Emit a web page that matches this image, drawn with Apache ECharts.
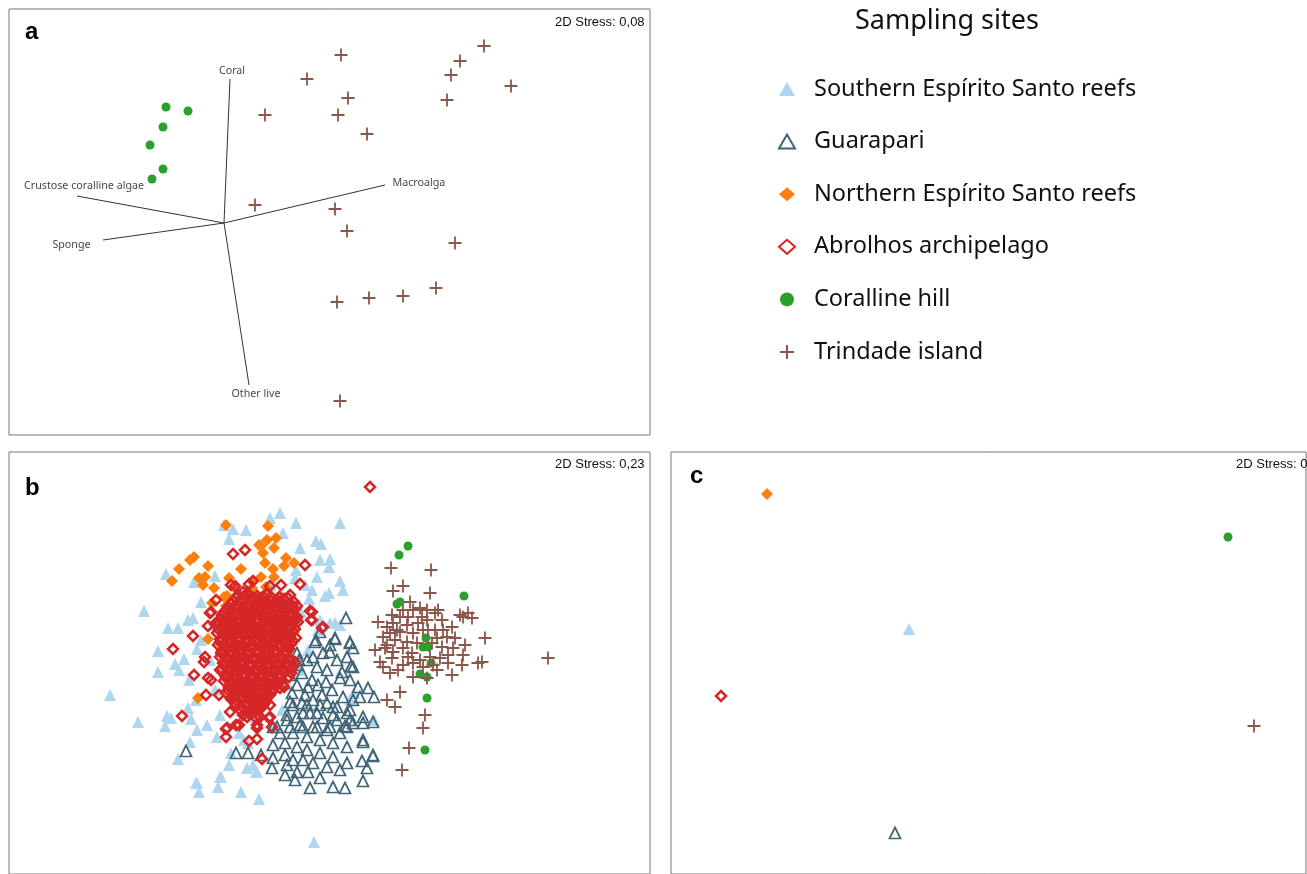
<!DOCTYPE html>
<html><head><meta charset="utf-8">
<script src="https://cdn.jsdelivr.net/npm/echarts@6/dist/echarts.min.js"></script>
<style>html,body{margin:0;padding:0;background:#fff}#c{width:1307px;height:874px}</style>
</head><body><div id="c"></div>
<script>
// ---------- Site names ----------
const siteNames = ['Southern Espírito Santo reefs','Guarapari','Northern Espírito Santo reefs','Abrolhos archipelago','Coralline hill','Trindade island'];

const trindadeA = [[341,55],[484,46],[307,79],[460,61],[451,75],[511,86],[348,98],[338,115],[447,100],[265,115],[367,134],[255,205],[335,209],[347,231],[455,243],[436,288],[403,296],[369,298],[337,302],[340,401]];
const corallineA = [[166,107],[188,111],[163,127],[150,145],[163,169],[152,179]];
const vectorOrigin = [224,223];
const vectorNames = ['Coral','Crustose coralline algae','Sponge','Macroalga','Other live'];
const vectorEnds = [[230,79],[77,196],[103,240],[385,185],[249,385]];

// ---------- Panel b ----------
const southernB = [[280,513],[270,518],[224,525],[233,529],[246,530],[296,523],[340,523],[229,539],[316,541],[321,544],[283,533],[330,559],[329,567],[317,577],[340,581],[343,590],[329,593],[325,596],[309,599],[290,599],[282,605],[166,574],[194,582],[215,576],[144,611],[168,628],[178,628],[193,618],[271,585],[295,578],[320,620],[330,623],[340,625],[158,651],[197,649],[184,659],[175,664],[158,672],[179,670],[189,680],[110,695],[138,722],[167,716],[165,726],[188,708],[197,730],[207,725],[190,742],[178,759],[229,765],[220,777],[197,783],[199,792],[218,787],[241,792],[259,799],[247,768],[256,772],[314,842],[374,720],[350,699],[335,623],[291,600],[269,587],[201,602],[220,715],[254,717],[231,753],[248,743],[274,727],[282,710],[299,670],[308,650],[318,630],[354,693],[171,718],[191,719],[217,737],[239,733],[244,740],[253,765],[257,772],[221,777],[196,783],[213,625],[201,640],[188,620],[265,620],[301,612],[312,590],[296,570],[305,585],[320,560],[300,548],[243,612],[210,660],[215,690],[196,700]];
const guarapariB = [[346,618],[335,639],[350,643],[315,642],[323,653],[313,657],[307,660],[330,652],[337,660],[347,657],[353,667],[368,688],[360,697],[298,665],[302,673],[317,667],[327,670],[340,678],[350,680],[297,685],[308,687],[318,685],[332,690],[343,697],[353,700],[290,702],[302,703],[313,700],[327,703],[337,707],[350,710],[287,715],[297,717],[310,713],[323,718],[337,720],[350,720],[363,717],[373,722],[277,727],[290,727],[303,727],[317,727],[330,727],[345,726],[186,751],[236,753],[248,753],[273,745],[272,768],[285,775],[295,780],[310,788],[297,772],[308,772],[320,778],[333,787],[345,788],[363,781],[367,768],[362,761],[373,756],[363,740],[363,723],[353,723],[285,755],[293,760],[303,760],[313,763],[327,767],[340,770],[347,763],[333,757],[320,753],[307,750],[297,747],[285,743],[280,733],[293,733],[307,737],[320,740],[333,743],[347,747],[340,733],[327,730],[313,727],[300,725],[347,727],[273,727],[287,720],[303,713],[317,713],[333,715],[347,713],[307,705],[320,705],[333,707],[293,705],[273,758],[287,765],[374,697],[363,742],[373,755],[316,640],[335,638],[350,642],[353,648],[351,666],[358,687],[297,653],[299,660],[261,755],[320,632],[330,645],[342,672],[312,680],[322,695],[305,695],[292,693],[284,683],[290,675],[326,682]];
const northernB = [[226,525],[268,526],[194,557],[190,560],[179,569],[172,581],[208,566],[241,569],[261,546],[267,540],[276,538],[274,548],[265,563],[286,558],[294,563],[284,566],[199,578],[205,577],[214,588],[229,578],[261,577],[274,577],[280,596],[212,603],[226,606],[244,607],[208,639],[222,645],[244,648],[294,630],[198,698],[224,597],[252,588],[259,545],[263,553],[273,569],[253,581],[266,587],[227,596],[257,595],[235,588],[203,585],[277,615]];
const abrolhosB = [[370,487],[233,554],[245,550],[305,565],[300,584],[231,585],[235,586],[243,592],[249,584],[253,581],[270,586],[281,585],[216,600],[260,600],[266,602],[272,605],[211,612],[230,617],[310,611],[289,608],[297,617],[311,620],[322,628],[217,622],[193,636],[173,649],[205,657],[204,662],[220,670],[208,678],[211,680],[206,695],[219,695],[182,716],[230,712],[236,725],[227,728],[243,715],[258,708],[269,718],[272,727],[257,728],[283,685],[289,677],[295,662],[312,612],[312,620],[323,627],[210,613],[215,624],[208,626],[227,632],[237,633],[290,613],[285,618],[267,605],[290,638],[293,667],[231,642],[221,653],[230,663],[235,688],[232,698],[235,703],[257,708],[262,703],[270,705],[260,717],[270,717],[257,725],[239,725],[226,729],[226,737],[249,741],[257,739],[262,759],[194,675],[280,677],[291,673],[284,687],[280,688],
[238,595],[247,593],[257,596],[266,594],[279,597],[290,595],
[233,601],[244,600],[252,602],[262,599],[271,601],[284,600],[294,602],
[228,607],[239,606],[248,608],[257,605],[265,607],[276,606],[288,608],[297,606],
[224,612],[236,613],[243,611],[253,613],[261,612],[270,614],[281,612],[291,613],
[221,619],[231,618],[240,620],[249,617],[258,619],[266,618],[277,620],[286,618],[296,619],
[226,625],[235,624],[244,626],[252,624],[263,625],[271,623],[282,626],[292,624],
[219,630],[229,631],[238,629],[247,631],[256,630],[266,632],[275,630],[285,631],[295,629],
[224,636],[233,637],[242,635],[251,637],[260,636],[270,638],[280,636],[290,637],
[220,642],[229,643],[238,641],[246,643],[255,642],[264,644],[274,642],[284,643],[293,641],
[225,648],[234,649],[243,647],[251,649],[261,648],[269,650],[279,648],[289,649],
[222,654],[231,655],[240,653],[248,655],[257,654],[266,656],[275,654],[285,655],
[227,660],[236,661],[245,659],[254,661],[262,660],[272,662],[281,660],[290,661],
[224,666],[233,667],[242,665],[250,667],[259,666],[268,668],[278,666],[287,667],
[229,672],[238,673],[247,671],[255,673],[264,672],[274,674],[283,672],
[226,678],[235,679],[243,677],[252,679],[261,678],[270,680],[279,678],
[231,684],[239,685],[248,683],[257,685],[266,684],[275,686],
[228,690],[236,691],[245,689],[254,691],[263,690],[272,692],
[233,696],[242,697],[250,695],[259,697],[268,696],
[238,702],[247,703],[256,701],[265,703],
[243,708],[252,709],[261,707],
[249,714],[258,715],
[242,598],[252,597],[261,598],[271,597],[284,599],
[237,604],[248,604],[257,603],[267,604],[279,603],[290,605],
[232,610],[243,609],[252,611],[261,609],[270,610],[282,609],[293,610],
[227,616],[236,615],[245,616],[254,615],[262,616],[272,617],[282,615],[292,616],
[223,622],[231,621],[240,622],[249,621],[258,622],[268,621],[278,623],[288,621],[298,622],
[221,628],[230,627],[240,628],[248,627],[258,628],[267,627],[277,628],[288,627],
[223,633],[233,634],[242,633],[251,634],[260,633],[270,634],[280,633],[290,634],
[220,639],[229,640],[238,638],[247,640],[256,639],[266,640],[276,639],[286,640],[296,638],
[224,645],[233,645],[242,644],[251,646],[260,645],[269,646],[279,645],[289,646],
[222,651],[231,652],[239,651],[248,652],[257,651],[266,652],[275,651],[285,652],
[226,657],[235,658],[244,657],[253,658],[262,657],[271,658],[280,657],[289,658],
[223,663],[232,664],[241,663],[250,664],[259,663],[268,664],[277,663],[286,664],
[228,669],[237,670],[246,669],[255,670],[264,669],[273,670],[282,669],
[225,675],[234,676],[243,675],[252,676],[261,675],[270,676],[279,675],
[230,681],[239,682],[248,681],[257,682],[266,681],[275,682],
[232,687],[241,688],[250,687],[259,688],[268,687],
[237,693],[246,694],[255,693],[264,694],
[242,699],[251,700],[260,699],
[247,705],[256,706],
[236,598],[245,596],[255,599],[264,597],[277,600],[288,598],
[231,604],[242,603],[250,605],[260,602],[269,604],[282,603],[292,605],
[226,610],[237,609],[246,611],[255,608],[263,610],[274,609],[286,611],[295,609],
[222,615],[234,616],[241,614],[251,616],[259,615],[268,617],[279,615],[289,616],
[219,622],[229,621],[238,623],[247,620],[256,622],[264,621],[275,623],[284,621],[294,622],
[224,628],[233,627],[242,629],[250,627],[261,628],[269,626],[280,629],[290,627],
[217,633],[227,634],[236,632],[245,634],[254,633],[264,635],[273,633],[283,634],[293,632],
[222,639],[231,640],[240,638],[249,640],[258,639],[268,641],[278,639],[288,640],
[218,645],[227,646],[236,644],[244,646],[253,645],[262,647],[272,645],[282,646],[291,644],
[223,651],[232,652],[241,650],[249,652],[259,651],[267,653],[277,651],[287,652],
[220,657],[229,658],[238,656],[246,658],[255,657],[264,659],[273,657],[283,658],
[225,663],[234,664],[243,662],[252,664],[260,663],[270,665],[279,663],[288,664],
[222,669],[231,670],[240,668],[248,670],[257,669],[266,671],[276,669],[285,670],
[227,675],[236,676],[245,674],[253,676],[262,675],[272,677],[281,675],
[224,681],[233,682],[241,680],[250,682],[259,681],[268,683],[277,681],
[229,687],[237,688],[246,686],[255,688],[264,687],[273,689],
[226,693],[234,694],[243,692],[252,694],[261,693],[270,695],
[231,699],[240,700],[248,698],[257,700],[266,699],
[236,705],[245,706],[254,704],[263,706],
[241,711],[250,712],[259,710],
[247,717],[256,718]];
const corallineB = [[408,546],[399,555],[464,596],[397,604],[400,602],[426,638],[423,647],[428,647],[431,663],[420,674],[427,677],[427,698],[425,750]];
const trindadeB = [[391,568],[431,570],[403,586],[393,591],[430,593],[548,658],[485,638],[482,662],[478,663],[400,692],[387,700],[395,707],[425,715],[423,728],[409,748],[402,770],
[410,602],[413,610],[420,608],[427,610],[438,610],[435,613],[460,615],[468,613],[472,618],[463,617],[400,617],[393,623],[378,622],[387,627],[407,625],[418,623],[427,620],[442,620],[452,627],[435,630],[423,630],[413,633],[400,632],[390,633],[383,637],[395,640],[407,642],[417,643],[437,638],[447,637],[455,638],[465,645],[442,647],[375,650],[385,648],[393,652],[403,648],[412,653],[430,657],[440,658],[448,655],[463,655],[380,662],[392,658],[403,665],[413,663],[423,667],[433,665],[448,663],[462,665],[383,667],[390,673],[413,677],[427,678],[452,675],[437,670],[398,670],[408,657],[420,660],[422,617],[428,630],[397,630],[432,643],[403,610],[408,617],[387,645],[453,648],[443,630],[392,615]];

// ---------- Panel c ----------
const southernC = [[909,629]];
const guarapariC = [[895,833]];
const northernC = [[767,494]];
const abrolhosC = [[721,696]];
const corallineC = [[1228,537]];
const trindadeC = [[1254,726]];

// ---------- styles ----------
const crossPath = 'path://M4.3,0H5.7V4.3H10V5.7H5.7V10H4.3V5.7H0V4.3H4.3Z';
const styles = [
  {symbol:'triangle', symbolSize:12, itemStyle:{color:'#aed6ef', opacity:1}},
  {symbol:'triangle', symbolSize:11, itemStyle:{color:'rgba(255,255,255,0)', borderColor:'#3f6579', borderWidth:1.7, opacity:1}},
  {symbol:'diamond', symbolSize:12, itemStyle:{color:'#ff7f0e', opacity:1}},
  {symbol:'diamond', symbolSize:10, itemStyle:{color:'rgba(255,255,255,0)', borderColor:'#d62728', borderWidth:2.5, opacity:1}},
  {symbol:'circle', symbolSize:9, itemStyle:{color:'#2ca02c', opacity:1}},
  {symbol:crossPath, symbolSize:13, itemStyle:{color:'#8c564b', opacity:1}}
];
function sc(siteIdx, data, gi){
  const s = styles[siteIdx];
  return {type:'scatter', name:siteNames[siteIdx], xAxisIndex:gi, yAxisIndex:gi, data:data,
    symbol:s.symbol, symbolSize:s.symbolSize, itemStyle:Object.assign({}, s.itemStyle),
    silent:true, z:2+siteIdx};
}

const series = [];
vectorEnds.forEach((e,i)=>{
  series.push({type:'line', name:'vec'+i, xAxisIndex:0, yAxisIndex:0, data:[vectorOrigin, e],
    symbol:'none', lineStyle:{color:'#333', width:1}, silent:true, z:1});
});
const labelCfg = [
  {position:'top', distance:2, offset:[2,0]},
  {position:'top', distance:4, offset:[7,0]},
  {position:'left', distance:12, offset:[0,5]},
  {position:'right', distance:7, offset:[0,-2]},
  {position:'bottom', distance:3, offset:[7,0]}
];
series.push({type:'scatter', name:'vectorLabels', xAxisIndex:0, yAxisIndex:0, symbolSize:1,
  itemStyle:{color:'rgba(0,0,0,0)'}, silent:true,
  data: vectorEnds.map((e,i)=>({value:e, label:Object.assign({show:true, formatter:vectorNames[i]}, labelCfg[i])})),
  label:{color:'#111', fontSize:10.7, fontFamily:'Noto Sans'}});
series.push(sc(4, corallineA, 0));
series.push(sc(5, trindadeA, 0));
[southernB, guarapariB, northernB, abrolhosB, corallineB, trindadeB].forEach((d,i)=>series.push(sc(i,d,1)));
[southernC, guarapariC, northernC, abrolhosC, corallineC, trindadeC].forEach((d,i)=>series.push(sc(i,d,2)));

const gridBase = {show:true, borderColor:'#777', borderWidth:1, backgroundColor:'#fff', containLabel:false};
const titleFont = {fontWeight:'normal', fontFamily:'Liberation Sans', color:'#111'};
const option = {
  animation:false,
  backgroundColor:'#fff',
  title:[
    {text:'Sampling sites', left:855, top:8, padding:0, textStyle:{fontSize:27, fontWeight:'normal', fontFamily:'Noto Sans', color:'#111'}},
    {text:'a', left:25, top:20, padding:0, textStyle:{fontSize:24, fontWeight:'bold', fontFamily:'Liberation Sans', color:'#000'}},
    {text:'b', left:25, top:476, padding:0, textStyle:{fontSize:24, fontWeight:'bold', fontFamily:'Liberation Sans', color:'#000'}},
    {text:'c', left:690, top:464, padding:0, textStyle:{fontSize:24, fontWeight:'bold', fontFamily:'Liberation Sans', color:'#000'}},
    {text:'2D Stress: 0,08', left:555, top:16, padding:0, textStyle:Object.assign({fontSize:13}, titleFont)},
    {text:'2D Stress: 0,23', left:555, top:458, padding:0, textStyle:Object.assign({fontSize:13}, titleFont)},
    {text:'2D Stress: 0', left:1236, top:458, padding:0, textStyle:Object.assign({fontSize:13}, titleFont)}
  ],
  legend:{
    data:siteNames, orient:'vertical', left:778, top:75, padding:0,
    itemWidth:16, itemHeight:14, itemGap:24.6, selectedMode:false,
    textStyle:{fontSize:23.5, fontFamily:'Noto Sans', color:'#111', lineHeight:28, padding:[0,0,0,14]}
  },
  grid:[
    Object.assign({left:9, top:9, width:641, height:426}, gridBase),
    Object.assign({left:9, top:452, width:641, height:422}, gridBase),
    Object.assign({left:671, top:452, width:635, height:422}, gridBase)
  ],
  xAxis:[
    {gridIndex:0, type:'value', min:9, max:650, show:false},
    {gridIndex:1, type:'value', min:9, max:650, show:false},
    {gridIndex:2, type:'value', min:671, max:1306, show:false}
  ],
  yAxis:[
    {gridIndex:0, type:'value', min:9, max:435, inverse:true, show:false},
    {gridIndex:1, type:'value', min:452, max:874, inverse:true, show:false},
    {gridIndex:2, type:'value', min:452, max:874, inverse:true, show:false}
  ],
  series:series
};
const chart = echarts.init(document.getElementById('c'), null, {renderer:'canvas'});
chart.setOption(option);
</script>
</body></html>
